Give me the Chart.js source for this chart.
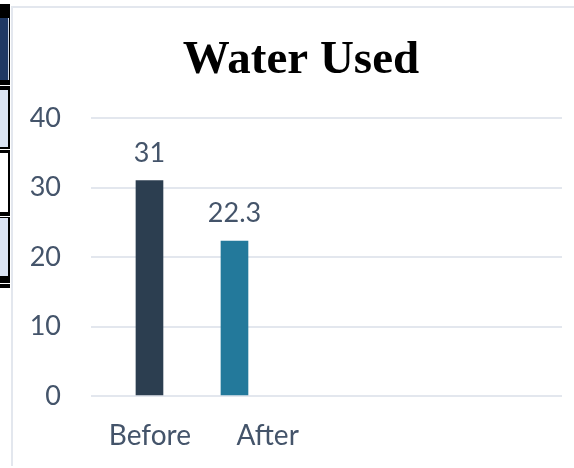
<!DOCTYPE html>
<html>
<head>
<meta charset="utf-8">
<script src="https://cdn.jsdelivr.net/npm/chart.js@4"></script>
<style>
  body { margin: 0; background: #fff; width: 574px; height: 468px; overflow: hidden; position: relative; }
  .abs { position: absolute; }
  #wrap { position: absolute; left: 12px; top: 8px; width: 578px; height: 455px; }
</style>
</head>
<body>
<!-- strip of the neighbouring table on the left -->
<div class="abs" style="left:0;top:4px;width:10px;height:284px;background:#000"></div>
<div class="abs" style="left:0;top:18px;width:8px;height:62px;background:#1f3864;border-right:1px solid #cfd8e8"></div>
<div class="abs" style="left:0;top:85px;width:10px;height:1px;background:#fff"></div>
<div class="abs" style="left:0;top:90px;width:8px;height:57px;background:#dae3f3"></div>
<div class="abs" style="left:0;top:149px;width:10px;height:1px;background:#fff"></div>
<div class="abs" style="left:0;top:153px;width:8px;height:59px;background:#fff"></div>
<div class="abs" style="left:0;top:216px;width:10px;height:1px;background:#fff"></div>
<div class="abs" style="left:0;top:218px;width:8px;height:58px;background:#dae3f3"></div>
<div class="abs" style="left:0;top:283px;width:10px;height:1px;background:#fff"></div>
<!-- chart frame -->
<div class="abs" style="left:11px;top:6px;width:2px;height:460px;background:#e3e7ee"></div>
<div class="abs" style="left:11px;top:6px;width:563px;height:2px;background:#e3e7ee"></div>

<div id="wrap"><canvas id="myChart" width="578" height="455"></canvas></div>

<script>
// Chart data
const categories = ["Before", "After"];
const values = [31, 22.3];
const barColors = ["#2C3E50", "#23799B"];
const xLabels = ["Before", "After", "", ""];
const yTicks = [0, 10, 20, 30, 40];

const textColor = "#44546A";
const labelFont = { family: "Lato", size: 27 };

// Draw the value above each bar
const valueLabels = {
  id: "valueLabels",
  afterDatasetsDraw(chart) {
    const ctx = chart.ctx;
    const meta = chart.getDatasetMeta(0);
    ctx.save();
    ctx.font = labelFont.size + "px " + labelFont.family;
    ctx.fillStyle = textColor;
    ctx.textAlign = "center";
    ctx.textBaseline = "alphabetic";
    meta.data.forEach((bar, i) => {
      ctx.fillText(String(values[i]), bar.x, bar.y - 19);
    });
    ctx.restore();
  },
};

// The title in the original sits a bit right of the canvas centre
const shiftTitle = {
  id: "shiftTitle",
  afterLayout(chart) {
    if (chart.titleBlock) chart.titleBlock.left += 28;
  },
};

const chrt = document.getElementById("myChart");

new Chart(chrt, {
  type: "bar",
  data: {
    datasets: [
      {
        label: "Water Used",
        data: values.map((v, i) => ({ x: i, y: v })),
        backgroundColor: barColors,
        borderWidth: 0,
        barThickness: 27,
        xAxisID: "xb",
      },
    ],
  },
  options: {
    responsive: false,
    animation: false,
    layout: { padding: { left: 0, right: 28, top: 0, bottom: 0 } },
    plugins: {
      legend: { display: false },
      tooltip: { enabled: false },
      title: {
        display: true,
        text: "Water Used",
        color: "#000",
        font: { family: "Liberation Serif", size: 47, weight: "bold", lineHeight: 1.2 },
        padding: { top: 25, bottom: 28.6 },
      },
    },
    scales: {
      x: {
        type: "category",
        labels: xLabels,
        offset: true,
        grid: { display: false, drawTicks: false },
        border: { display: false },
        ticks: { color: textColor, font: { family: "Lato", size: 28 }, padding: 23, maxRotation: 0 },
        afterFit: (scale) => { scale.height = 67; },
      },
      xb: {
        type: "linear",
        display: false,
        min: -0.688,
        max: 4.853,
        offset: false,
      },
      y: {
        min: 0,
        max: 40,
        afterBuildTicks: (scale) => { scale.ticks = yTicks.map((v) => ({ value: v })); },
        grid: { color: "#e3e7ee", lineWidth: 2, drawTicks: false },
        border: { display: false },
        ticks: { color: textColor, font: labelFont, padding: 30 },
        afterFit: (scale) => { scale.width = 79; },
      },
    },
  },
  plugins: [valueLabels, shiftTitle],
});
</script>
</body>
</html>
